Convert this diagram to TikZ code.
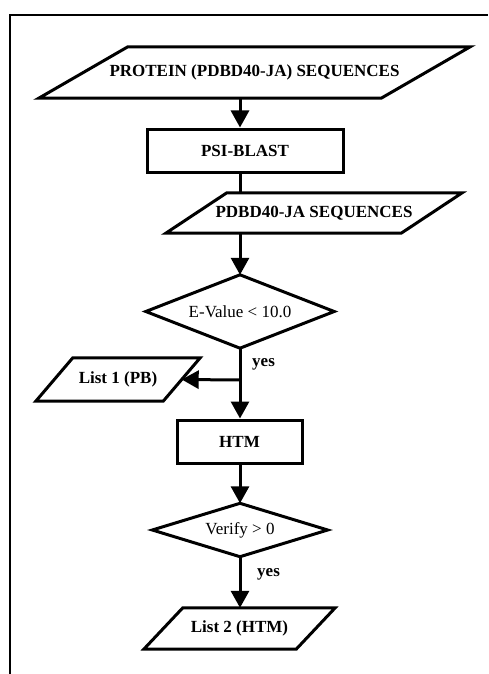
\documentclass[tikz,border=0pt]{standalone}
\usepackage{fontspec}
\setmainfont{Liberation Serif}
\usetikzlibrary{arrows.meta}
\tikzset{
  lw/.style={line width=3pt},
  frameline/.style={line width=2.4pt},
  txt/.style={font=\fontsize{17}{20}\selectfont, inner sep=0pt},
  btxt/.style={font=\fontsize{17}{20}\selectfont\bfseries, inner sep=0pt},
  boxnode/.style={draw, lw, btxt, minimum width=#1},
  flow/.style={lw, -{Triangle[length=17pt,width=18pt]}},
  plain/.style={lw},
}
\newcommand{\para}[2]{% node name, slant
  \draw[lw, line join=miter] ([xshift=-#2/2]#1.south west) -- ([xshift=-#2/2]#1.south east)
     -- ([xshift=#2/2]#1.north east) -- ([xshift=#2/2]#1.north west) -- cycle;}
\newcommand{\diam}[1]{%
  \draw[lw, line join=miter] (#1.north) -- (#1.east) -- (#1.south) -- (#1.west) -- cycle;}
\begin{document}
\begin{tikzpicture}[x=1pt,y=-1pt]
\useasboundingbox (0,0) rectangle (488,674);
\fill[white] (0,0) rectangle (488,674);
% frame
\coordinate (fa) at (10,674);
\coordinate (fb) at (10,15);
\coordinate (fc) at (488,15);
\draw[frameline] (fa) -- (fb) -- (fc);

% nodes
\node[btxt, minimum width=342pt, minimum height=51pt] (p1) at (254.5,72.5) {PROTEIN (PDBD40-JA) SEQUENCES};
\para{p1}{89pt}
\node[boxnode=196pt, minimum height=43pt] (psi) at (245,150.5) {PSI-BLAST};
\node[btxt, minimum width=235pt, minimum height=40pt] (p2) at (314,213) {PDBD40-JA SEQUENCES};
\para{p2}{61pt}
\node[txt, minimum width=188pt, minimum height=73pt] (d1) at (240,311.5) {E-Value < 10.0};
\diam{d1}
\node[btxt, minimum width=127pt, minimum height=43pt] (l1) at (118,379.5) {List 1 (PB)};
\para{l1}{37pt}
\node[boxnode=125pt, minimum height=43pt] (htm) at (239.5,441.5) {HTM};
\node[txt, minimum width=175pt, minimum height=53pt] (d2) at (240,530) {Verify > 0};
\diam{d2}
\node[btxt, minimum width=152pt, minimum height=41pt] (l2) at (239.5,628.5) {List 2 (HTM)};
\para{l2}{39pt}

% axis and junction
\coordinate (ax) at (240,0);
\coordinate (j1) at (240,380);

% connectors
\draw[flow] (p1.south -| ax) -- (psi.north -| ax);
\draw[plain] (psi.south -| ax) -- (p2.north -| ax);
\draw[flow] (p2.south -| ax) -- (d1.north);
\draw[flow] (d1.south) -- (htm.north -| ax);
\draw[flow] (j1) -- (l1.east);
\draw[flow] (htm.south -| ax) -- (d2.north);
\draw[flow] (d2.south) -- (l2.north -| ax);

% labels
\node[btxt, anchor=west] (y1) at (252,364) {yes};
\node[btxt, anchor=west] (y2) at (257,574) {yes};
\end{tikzpicture}
\end{document}
